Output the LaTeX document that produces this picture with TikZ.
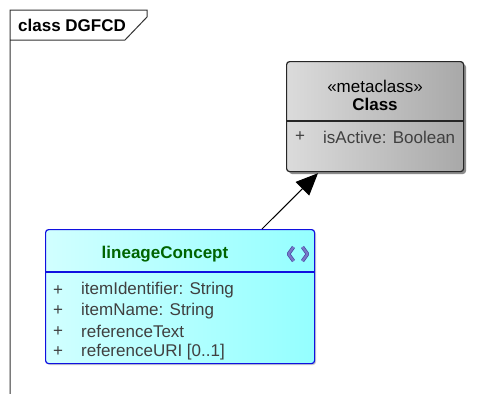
\documentclass[tikz,border=0pt]{standalone}
\usepackage{fontspec}
\setmainfont{Liberation Sans}
\usetikzlibrary{arrows.meta,calc}
\definecolor{attrtxt}{HTML}{404040}
\definecolor{lcborder}{HTML}{1010E0}
\definecolor{lctitle}{HTML}{006400}
\definecolor{iconcol}{HTML}{7878C8}
\definecolor{iconedge}{HTML}{4848A0}
\tikzset{
  umlbox/.style={draw, rounded corners=3pt, anchor=north west, inner sep=0pt, line width=1.2pt},
  clsbox/.style={umlbox, draw=black!85, left color=black!14, right color=black!34},
  lcbox/.style={umlbox, draw=lcborder, left color=cyan!18, right color=cyan!42},
  shadowbox/.style={fill=black!45, rounded corners=3pt},
  lbl/.style={inner sep=0pt, font=\fontsize{17}{20}\selectfont},
  attr/.style={lbl, anchor=west, text=attrtxt},
  boldlbl/.style={lbl, font=\fontsize{17}{20}\selectfont\bfseries},
  sepline/.style={line width=1.1pt},
  extarrow/.style={-{Triangle[length=22pt,width=19pt]}, line width=1pt, black}
}
\begin{document}
\begin{tikzpicture}[x=1pt,y=-1pt]
\useasboundingbox (0,0) rectangle (488,394);
\fill[white] (0,0) rectangle (488,394);
% frame
\draw[line width=1pt, black!80] (10,394) -- (10,10) -- (147,10) -- (147,17) -- (125,40) -- (10,40);
\node[boldlbl, anchor=west] (ftitle) at (18,25.5) {class DGFCD};
% Class box
\fill[shadowbox] (289,64) rectangle (466,174);
\node[clsbox, minimum width=177pt, minimum height=110pt] (cls) at (286,61) {};
\draw[sepline, black!85] ($(cls.north west)+(0,60)$) -- ($(cls.north east)+(0,60)$);
\node[lbl] (cstereo) at (375,86) {«metaclass»};
\node[boldlbl] (cname) at (375,104) {Class};
\node[attr] (cplus) at (295,137) {+};
\node[attr] (cattr) at (323,137) {isActive: Boolean};
% lineageConcept box
\fill[black!20, rounded corners=3pt] (47,231) rectangle (316,365);
\node[lcbox, minimum width=269pt, minimum height=134pt] (lc) at (45,229) {};
\draw[sepline, lcborder] ($(lc.north west)+(0,43)$) -- ($(lc.north east)+(0,43)$);
\node[boldlbl, text=lctitle] (lctitle) at (165,254.5) {lineageConcept};
\draw[iconedge, line width=3.6pt, line join=round] (293.5,247) -- (288.5,254) -- (293.5,261);
\draw[iconedge, line width=3.6pt, line join=round] (302.5,247) -- (307.5,254) -- (302.5,261);
\draw[iconcol, line width=2.2pt, line join=round] (293.5,247) -- (288.5,254) -- (293.5,261);
\draw[iconcol, line width=2.2pt, line join=round] (302.5,247) -- (307.5,254) -- (302.5,261);
\node[attr] (p1) at (53,290.5) {+};
\node[attr] (a1) at (81,290.5) {itemIdentifier: String};
\node[attr] (p2) at (53,311) {+};
\node[attr] (a2) at (81,311) {itemName: String};
\node[attr] (p3) at (53,331.5) {+};
\node[attr] (a3) at (81,331.5) {referenceText};
\node[attr] (p4) at (53,352) {+};
\node[attr] (a4) at (81,352) {referenceURI [0..1]};
% connector
\coordinate (arrstart) at ($(lc.north west)+(217,0)$);
\coordinate (arrend) at ($(cls.south west)+(32,1)$);
\draw[extarrow] (arrstart) -- (arrend);
\end{tikzpicture}
\end{document}
